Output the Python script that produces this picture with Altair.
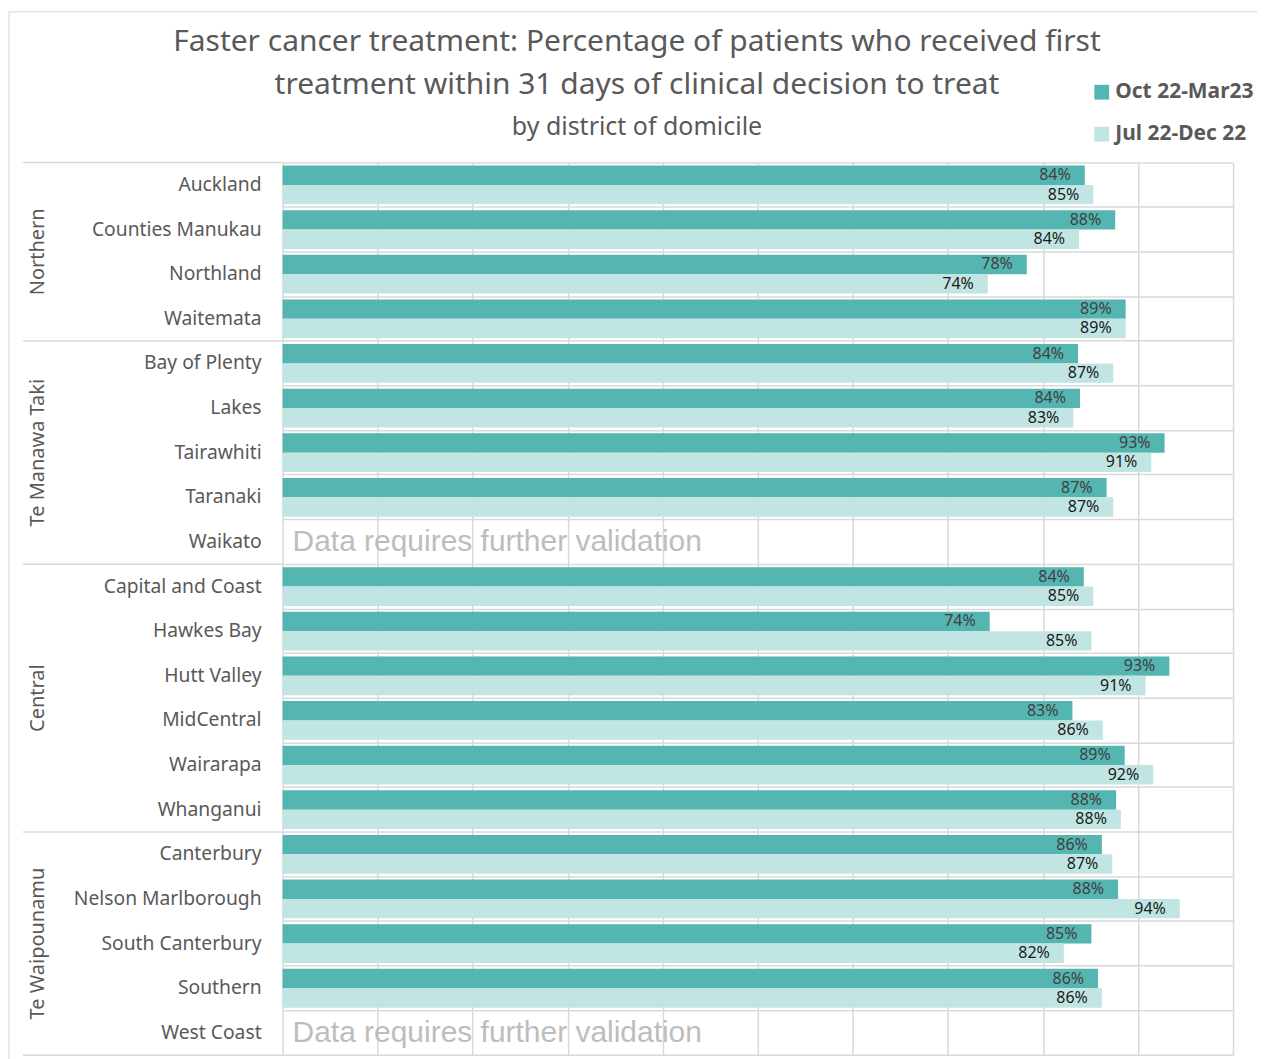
import altair as alt
import pandas as pd

# ---------------- data ----------------
regions = (["Northern"] * 4 + ["Te Manawa Taki"] * 5 +
           ["Central"] * 6 + ["Te Waipounamu"] * 5)
districts = ["Auckland", "Counties Manukau", "Northland", "Waitemata",
             "Bay of Plenty", "Lakes", "Tairawhiti", "Taranaki", "Waikato",
             "Capital and Coast", "Hawkes Bay", "Hutt Valley", "MidCentral",
             "Wairarapa", "Whanganui",
             "Canterbury", "Nelson Marlborough", "South Canterbury", "Southern",
             "West Coast"]
series = ["Oct 22-Mar23", "Jul 22-Dec 22"]
oct_vals = [84.4, 87.6, 78.3, 88.7,
            83.7, 83.9, 92.8, 86.7, None,
            84.3, 74.4, 93.3, 83.1, 88.6, 87.7,
            86.2, 87.9, 85.1, 85.8, None]
jul_vals = [85.3, 83.8, 74.2, 88.7,
            87.4, 83.2, 91.4, 87.4, None,
            85.3, 85.1, 90.8, 86.3, 91.6, 88.2,
            87.3, 94.4, 82.2, 86.2, None]
note_text = "Data requires further validation"

title_lines = ["Faster cancer treatment: Percentage of patients who received first",
               "treatment within 31 days of clinical decision to treat"]
subtitle = "by district of domicile"

# ---------------- tables ----------------
rows = []
for d, o, j in zip(districts, oct_vals, jul_vals):
    if o is not None:
        rows.append({"district": d, "series": series[0], "value": o})
    if j is not None:
        rows.append({"district": d, "series": series[1], "value": j})
long_df = pd.DataFrame(rows)

note_df = pd.DataFrame([{"district": d, "note": note_text}
                        for d, o, j in zip(districts, oct_vals, jul_vals)
                        if o is None and j is None])

lab_df = pd.DataFrame({"district": districts, "region": regions,
                       "row": list(range(len(districts)))})
reg_df = (lab_df.groupby("region", sort=False)["row"]
          .agg(["min", "max"]).reset_index())
reg_df["start"] = reg_df["min"]
reg_df["end"] = reg_df["max"] + 1
reg_df["center"] = (reg_df["start"] + reg_df["end"]) / 2
bounds_df = pd.DataFrame({"b": list(reg_df["start"]) + [len(districts)]})

# ---------------- styling ----------------
FONT = "Noto Sans"
GRID = "#d9d9d9"
TXT = "#595959"
C_OCT = "#55B5B1"
C_JUL = "#C1E5E3"
LW = 260
PW = 952
PH = 894

# ---------------- left label panel ----------------
yq = alt.Scale(domain=[0, len(districts)], reverse=True, nice=False, zero=False)

dist_text = alt.Chart(lab_df).transform_calculate(
    ypos="datum.row + 0.5"
).mark_text(align="right", baseline="middle", fontSize=19.3, font=FONT,
            color=TXT).encode(
    x=alt.value(LW - 21),
    y=alt.Y("ypos:Q", scale=yq, axis=None),
    text="district:N",
)

reg_text = alt.Chart(reg_df).mark_text(
    angle=270, align="center", baseline="middle", fontSize=20, font=FONT,
    color=TXT).encode(
    x=alt.value(15),
    y=alt.Y("center:Q", scale=yq, axis=None),
    text="region:N",
)

reg_rules = alt.Chart(bounds_df).mark_rule(color=GRID, strokeWidth=1.5).encode(
    x=alt.value(0), x2=alt.value(LW),
    y=alt.Y("b:Q", scale=yq, axis=None),
)

# outer chart frame (top and left edges)
frame_df = pd.DataFrame({"k": [0]})
frame_top = alt.Chart(frame_df).mark_rule(color="#e3e3e3", strokeWidth=1.5).encode(
    x=alt.value(-14), x2=alt.value(1236), y=alt.value(-151),
)
frame_left = alt.Chart(frame_df).mark_rule(color="#e3e3e3", strokeWidth=1.5).encode(
    x=alt.value(-14), y=alt.value(-151), y2=alt.value(PH + 6),
)

left = alt.layer(frame_top, frame_left, reg_rules, dist_text, reg_text
                 ).properties(width=LW, height=PH)

# ---------------- bar panel ----------------
ysc = alt.Scale(domain=districts, paddingInner=0, paddingOuter=0)
yaxis = alt.Axis(title=None, labels=False, ticks=False, domain=False,
                 grid=True, bandPosition=0, gridColor=GRID, gridWidth=1.5)
xsc = alt.Scale(domain=[0, 100], nice=False, zero=True)
xaxis = alt.Axis(title=None, labels=False, ticks=False, domain=False,
                 grid=True, values=list(range(0, 101, 10)),
                 gridColor=GRID, gridWidth=1.5)
yoff = alt.YOffset("series:N", sort=series,
                   scale=alt.Scale(domain=series, paddingInner=0,
                                   paddingOuter=0.15))

base = alt.Chart(long_df).transform_calculate(
    label="format(datum.value, '.0f') + '%'"
)

bars = base.mark_bar().encode(
    x=alt.X("value:Q", scale=xsc, axis=xaxis),
    y=alt.Y("district:N", scale=ysc, axis=yaxis, sort=districts),
    yOffset=yoff,
    color=alt.Color(
        "series:N", sort=series,
        scale=alt.Scale(domain=series, range=[C_OCT, C_JUL]),
        legend=alt.Legend(
            title=None, orient="none", legendX=1070, legendY=-81,
            symbolType="square", symbolSize=220, symbolStrokeWidth=0,
            labelFontSize=21, labelFont=FONT, labelFontWeight="bold",
            labelColor=TXT, rowPadding=20, labelOffset=3,
        ),
    ),
)

lab_oct = base.transform_filter(alt.datum.series == series[0]).mark_text(
    align="right", baseline="middle", dx=-14, fontSize=16, font=FONT,
    color="#404040").encode(
    x=alt.X("value:Q", scale=xsc, axis=xaxis),
    y=alt.Y("district:N", scale=ysc, axis=yaxis, sort=districts),
    yOffset=yoff,
    text="label:N",
)
lab_jul = base.transform_filter(alt.datum.series == series[1]).mark_text(
    align="right", baseline="middle", dx=-14, fontSize=16, font=FONT,
    color="#1a1a1a").encode(
    x=alt.X("value:Q", scale=xsc, axis=xaxis),
    y=alt.Y("district:N", scale=ysc, axis=yaxis, sort=districts),
    yOffset=yoff,
    text="label:N",
)

notes = alt.Chart(note_df).mark_text(
    align="left", baseline="middle", x=10, fontSize=30,
    font="Liberation Sans", color="#bdbdbd").encode(
    y=alt.Y("district:N", scale=ysc, axis=yaxis, sort=districts),
    text="note:N",
)

bottom = alt.Chart(pd.DataFrame({"k": [0]})).mark_rule(
    color=GRID, strokeWidth=1.5).encode(
    x=alt.value(0), x2=alt.value(PW), y=alt.value(PH),
)

right = alt.layer(bars, lab_oct, lab_jul, notes, bottom).properties(
    width=PW, height=PH)

chart = alt.hconcat(left, right, spacing=0, bounds="flush").properties(
    title=alt.TitleParams(
        text=title_lines, subtitle=subtitle, anchor="middle", dx=4,
        font=FONT, fontSize=30, fontWeight="normal", color=TXT,
        lineHeight=43, subtitleFont=FONT, subtitleFontSize=25,
        subtitleColor=TXT, subtitlePadding=15, offset=-129,
    ),
    padding={"left": 0, "top": 2, "right": 0, "bottom": 0},
).configure_view(stroke=None).configure_concat(spacing=0)

chart.save("out.html", embed_options={"renderer": "svg", "actions": False})
